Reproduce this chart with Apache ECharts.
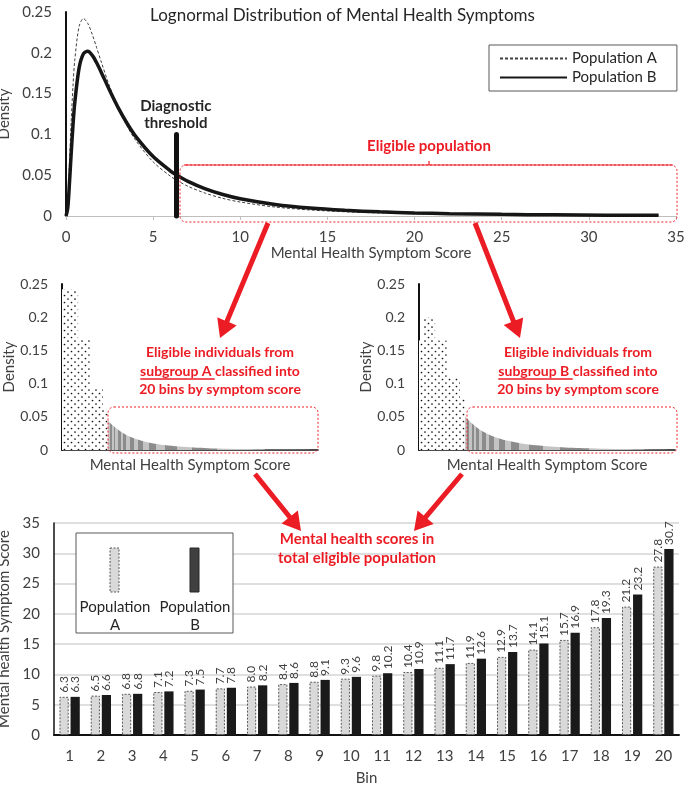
<!DOCTYPE html>
<html><head><meta charset="utf-8">
<script src="https://cdn.jsdelivr.net/npm/echarts@6/dist/echarts.min.js"></script>
<style>html,body{margin:0;padding:0;background:#fff}#c{width:685px;height:788px}</style>
</head><body><div id="c"></div>
<script>
// ---------- data ----------
const scorePoints = [0, 0.1, 0.2, 0.3, 0.4, 0.5, 0.75, 1, 1.25, 1.5, 1.75, 2, 2.5, 3, 3.5, 4, 5, 6, 6.3, 7, 8, 9, 10, 12, 14, 16, 18, 20, 22, 25, 28, 31, 34];
const densityA = [0, 0.0171, 0.0662, 0.1172, 0.159, 0.1903, 0.2322, 0.2420, 0.2360, 0.2229, 0.2069, 0.1903, 0.1590, 0.1323, 0.1104, 0.0926, 0.0663, 0.0486, 0.0445, 0.0364, 0.0279, 0.0216, 0.0171, 0.0110, 0.0074, 0.0052, 0.0037, 0.0027, 0.0020, 0.0014, 0.0009, 0.0007, 0.0005];
const densityB = [0, 0.0093, 0.0408, 0.0775, 0.1108, 0.1381, 0.1812, 0.1989, 0.2019, 0.1971, 0.1881, 0.1772, 0.1541, 0.1325, 0.1137, 0.0976, 0.0728, 0.0551, 0.0510, 0.0425, 0.0333, 0.0264, 0.0212, 0.0142, 0.0098, 0.0070, 0.0051, 0.0038, 0.0029, 0.0020, 0.0014, 0.0010, 0.0008];
const thresholdScore = 6.3;
const thresholdMarkTop = 0.1;
const scoreMax = 35;
const belowEdgesA = [0, 2.2, 3.8, 5.6, 6.3];
const belowHeightsA = [0.242, 0.166, 0.092, 0.062];
const belowEdgesB = [0, 0.55, 2.2, 3.8, 5.6, 6.3];
const belowHeightsB = [0.165, 0.2, 0.165, 0.11, 0.078];
const bins = ['1','2','3','4','5','6','7','8','9','10','11','12','13','14','15','16','17','18','19','20'];
const binScoreA = [6.3, 6.5, 6.8, 7.1, 7.3, 7.7, 8.0, 8.4, 8.8, 9.3, 9.8, 10.4, 11.1, 11.9, 12.9, 14.1, 15.7, 17.8, 21.2, 27.8];
const binScoreB = [6.3, 6.6, 6.8, 7.2, 7.5, 7.8, 8.2, 8.6, 9.1, 9.6, 10.2, 10.9, 11.7, 12.6, 13.7, 15.1, 16.9, 19.3, 23.2, 30.7];

// ---------- styles ----------
const FONT = 'Lato';
const RED = '#ec1c24';
const TXT = '#404040';

const chart = echarts.init(document.getElementById('c'), null, {renderer: 'canvas'});

// dotted pattern
const pat = document.createElement('canvas');
pat.width = 7; pat.height = 7;
(function(){
  const c = pat.getContext('2d');
  c.fillStyle = '#fff'; c.fillRect(0,0,7,7);
  c.fillStyle = '#111';
  c.beginPath(); c.arc(1.5,1.5,0.85,0,Math.PI*2); c.fill();
  c.beginPath(); c.arc(5,5,0.85,0,Math.PI*2); c.fill();
})();
const dotFill = {image: pat, repeat: 'repeat'};

const curveA = scorePoints.map((x,i)=>[x, densityA[i]]);
const curveB = scorePoints.map((x,i)=>[x, densityB[i]]);
const tailStart = scorePoints.indexOf(thresholdScore);
const tailA = curveA.slice(tailStart);
const tailB = curveB.slice(tailStart);
const belowA = belowHeightsA.map((h,i)=>[belowEdgesA[i], belowEdgesA[i+1], h]);
const belowB = belowHeightsB.map((h,i)=>[belowEdgesB[i], belowEdgesB[i+1], h]);

function pieces(lowEdges){
  const edges = lowEdges.concat([scoreMax]);
  return lowEdges.map((e,i)=>({gte: edges[i], lt: edges[i+1], color: i % 2 === 0 ? '#c4c4c4' : '#8c8c8c'}));
}

function renderBins(params, api){
  const p0 = api.coord([api.value(0), api.value(2)]);
  const p1 = api.coord([api.value(1), 0]);
  return {type: 'rect', shape: {x: p0[0], y: p0[1], width: p1[0]-p0[0], height: p1[1]-p0[1]}, style: {fill: dotFill, stroke: null}};
}

function arrowPts(x1,y1,x2,y2){
  const sw = 5, hw = 21, hl = 18;
  const dx=x2-x1, dy=y2-y1, L=Math.hypot(dx,dy), ux=dx/L, uy=dy/L, px=-uy, py=ux;
  const bx = x2-ux*hl, by = y2-uy*hl;
  return [[x1+px*sw/2, y1+py*sw/2],[bx+px*sw/2, by+py*sw/2],[bx+px*hw/2, by+py*hw/2],[x2,y2],
          [bx-px*hw/2, by-py*hw/2],[bx-px*sw/2, by-py*sw/2],[x1-px*sw/2, y1-py*sw/2]];
}
function arrow(x1,y1,x2,y2){
  return {type:'polygon', z:100, silent:true, shape:{points: arrowPts(x1,y1,x2,y2)}, style:{fill: RED}};
}

// underline measurement
const mc = document.createElement('canvas').getContext('2d');
mc.font = 'bold 14px ' + FONT;
const line2W = mc.measureText('subgroup X classified into').width;
const ulW = mc.measureText('subgroup X ').width;

function midText(cx, letter){
  return [
    {type:'text', z:100, silent:true, style:{text:'Eligible individuals from\nsubgroup ' + letter + ' classified into\n20 bins by symptom score',
      x: cx, y: 371, align:'center', verticalAlign:'middle', fill: RED, fontFamily: FONT, fontWeight:'bold', fontSize:14, lineHeight:18.5}},
    {type:'line', z:100, silent:true, shape:{x1: cx - line2W/2, y1: 379, x2: cx - line2W/2 + ulW, y2: 379}, style:{stroke: RED, lineWidth: 1.3}}
  ];
}

function roundBox(x,y,w,h){
  return {type:'rect', z:90, silent:true, shape:{x:x, y:y, width:w, height:h, r:6}, style:{fill:'none', stroke: RED, lineWidth:1, lineDash:[2,2]}};
}

const axisTxt = {color: TXT, fontFamily: FONT};
const G = {outerBoundsMode: 'none', containLabel: false};

const option = {
  animation: false,
  textStyle: {fontFamily: FONT},
  title: {text: 'Lognormal Distribution of Mental Health Symptoms', left: 'center', top: 2,
    textStyle: {fontSize: 17, fontWeight: 'normal', color: '#262626', fontFamily: FONT}},
  legend: {data: ['Population A', 'Population B'], orient: 'vertical', left: 489, top: 45,
    padding: [6, 20, 6, 10], itemWidth: 67, itemHeight: 14, itemGap: 4,
    itemStyle: {opacity: 0},
    borderColor: '#595959', borderWidth: 1, textStyle: {fontSize: 15, color: '#262626', fontFamily: FONT}},
  grid: [
    Object.assign({left: 66, right: 9, top: 12, height: 204}, G),
    Object.assign({left: 62, width: 256, top: 284, height: 166}, G),
    Object.assign({left: 419, width: 256, top: 284, height: 166}, G),
    Object.assign({left: 54, right: 6, top: 523, height: 212}, G)
  ],
  visualMap: [
    {type:'piecewise', show:false, seriesIndex: 3, dimension: 0, pieces: pieces(binScoreA)},
    {type:'piecewise', show:false, seriesIndex: 5, dimension: 0, pieces: pieces(binScoreB)}
  ],
  xAxis: [
    {gridIndex:0, type:'value', min:0, max:scoreMax, interval:5,
      name:'Mental Health Symptom Score', nameLocation:'middle', nameGap:29,
      nameTextStyle:{fontSize:15, color:TXT},
      axisLine:{show:true, lineStyle:{color:'#bfbfbf', width:1}},
      axisTick:{show:true, length:4, lineStyle:{color:'#bfbfbf'}},
      axisLabel:Object.assign({fontSize:15, margin:14}, axisTxt), splitLine:{show:false}},
    {gridIndex:1, type:'value', min:0, max:scoreMax,
      name:'Mental Health Symptom Score', nameLocation:'middle', nameGap:8,
      nameTextStyle:{fontSize:15, color:TXT},
      axisLine:{show:true, lineStyle:{color:'#111', width:1.5}}, axisTick:{show:false},
      axisLabel:{show:false}, splitLine:{show:false}},
    {gridIndex:2, type:'value', min:0, max:scoreMax,
      name:'Mental Health Symptom Score', nameLocation:'middle', nameGap:8,
      nameTextStyle:{fontSize:15, color:TXT},
      axisLine:{show:true, lineStyle:{color:'#111', width:1.5}}, axisTick:{show:false},
      axisLabel:{show:false}, splitLine:{show:false}},
    {gridIndex:3, type:'category', data: bins, boundaryGap:true,
      name:'Bin', nameLocation:'middle', nameGap:36, nameTextStyle:{fontSize:15, color:TXT},
      axisLine:{show:true, lineStyle:{color:'#111', width:2}}, axisTick:{show:false},
      axisLabel:Object.assign({fontSize:15, margin:14}, axisTxt)}
  ],
  yAxis: [
    {gridIndex:0, type:'value', min:0, max:0.25, interval:0.05,
      name:'Density', nameLocation:'middle', nameGap:43, nameTextStyle:{fontSize:15, color:TXT},
      axisLine:{show:true, lineStyle:{color:'#111', width:2}}, axisTick:{show:false},
      axisLabel:Object.assign({fontSize:15, margin:14}, axisTxt), splitLine:{show:false}},
    {gridIndex:1, type:'value', min:0, max:0.25, interval:0.05,
      name:'Density', nameLocation:'middle', nameGap:45, nameTextStyle:{fontSize:15, color:TXT},
      axisLine:{show:true, lineStyle:{color:'#111', width:2}}, axisTick:{show:false},
      axisLabel:Object.assign({fontSize:14, margin:14}, axisTxt), splitLine:{show:false}},
    {gridIndex:2, type:'value', min:0, max:0.25, interval:0.05,
      name:'Density', nameLocation:'middle', nameGap:45, nameTextStyle:{fontSize:15, color:TXT},
      axisLine:{show:true, lineStyle:{color:'#111', width:2}}, axisTick:{show:false},
      axisLabel:Object.assign({fontSize:14, margin:14}, axisTxt), splitLine:{show:false}},
    {gridIndex:3, type:'value', min:0, max:35, interval:5,
      name:'Mental health Symptom Score', nameLocation:'middle', nameGap:29, nameTextStyle:{fontSize:15, color:TXT},
      axisLine:{show:true, lineStyle:{color:'#111', width:1.5}}, axisTick:{show:false},
      axisLabel:Object.assign({fontSize:15, margin:14}, axisTxt),
      splitLine:{show:true, lineStyle:{color:'#d4d4d4', width:1.5}}}
  ],
  series: [
    {name:'Population A', type:'line', xAxisIndex:0, yAxisIndex:0, data: curveA, smooth:0.3,
      symbol:'none', lineStyle:{color:'#404040', width:1, type:[3,2]}, itemStyle:{color:'#404040'}, z:3},
    {name:'Population B', type:'line', xAxisIndex:0, yAxisIndex:0, data: curveB, smooth:0.3,
      symbol:'none', lineStyle:{color:'#161616', width:3.5}, itemStyle:{color:'#161616'}, z:4,
      markLine:{silent:true, symbol:'none', animation:false,
        lineStyle:{color:'#111', width:5, type:'solid', cap:'round'},
        label:{show:true, position:'end', formatter:'Diagnostic\nthreshold', distance:3,
          fontSize:15, fontWeight:'bold', color:'#262626', fontFamily:FONT, lineHeight:17},
        data:[[{coord:[thresholdScore, 0]}, {coord:[thresholdScore, thresholdMarkTop]}]]}},
    {name:'below A', type:'custom', xAxisIndex:1, yAxisIndex:1, data: belowA, encode:{x:[0,1], y:2},
      renderItem: renderBins, silent:true},
    {name:'tail A', type:'line', xAxisIndex:1, yAxisIndex:1, data: tailA, smooth:0.3, symbol:'none',
      lineStyle:{width:0}, areaStyle:{opacity:1}, silent:true},
    {name:'below B', type:'custom', xAxisIndex:2, yAxisIndex:2, data: belowB, encode:{x:[0,1], y:2},
      renderItem: renderBins, silent:true},
    {name:'tail B', type:'line', xAxisIndex:2, yAxisIndex:2, data: tailB, smooth:0.3, symbol:'none',
      lineStyle:{width:0}, areaStyle:{opacity:1}, silent:true},
    {name:'Bins A', type:'bar', xAxisIndex:3, yAxisIndex:3, data: binScoreA, barCategoryGap:'35%', barGap:'20%',
      itemStyle:{color:'#d9d9d9', borderColor:'#595959', borderWidth:1, borderType:[2,1.5]},
      label:{show:true, position:'top', rotate:90, align:'left', verticalAlign:'middle', distance:4,
        formatter: p => p.value.toFixed(1), fontSize:12, color:TXT, fontFamily:FONT}},
    {name:'Bins B', type:'bar', xAxisIndex:3, yAxisIndex:3, data: binScoreB,
      itemStyle:{color:'#1a1a1a'},
      label:{show:true, position:'top', rotate:90, align:'left', verticalAlign:'middle', distance:4,
        formatter: p => p.value.toFixed(1), fontSize:12, color:TXT, fontFamily:FONT}}
  ],
  graphic: [
    {type:'rect', z:90, silent:true, shape:{x:180, y:165, width:497, height:57, r:6}, style:{fill:'none', stroke:RED, lineWidth:1, lineDash:[2,2]}},
    {type:'line', z:91, silent:true, shape:{x1:184, y1:165, x2:673, y2:165}, style:{stroke:RED, lineWidth:1.2}},
    {type:'line', z:91, silent:true, shape:{x1:429, y1:165, x2:429, y2:161}, style:{stroke:RED, lineWidth:1.2}},
    {type:'text', z:100, silent:true, style:{text:'Eligible population', x:429, y:146, align:'center', verticalAlign:'middle',
      fill:RED, fontFamily:FONT, fontWeight:'bold', fontSize:15}},
    arrow(268,223,220,338),
    arrow(475,223,520,338),
    arrow(255,474,301,531),
    arrow(462,474,414,531),
    ...midText(220,'A'),
    ...midText(578,'B'),
    roundBox(108,407,210,46),
    roundBox(467,407,210,46),
    {type:'text', z:100, silent:true, style:{text:'Mental health scores in\ntotal eligible population', x:357, y:549,
      align:'center', verticalAlign:'middle', fill:RED, fontFamily:FONT, fontWeight:'bold', fontSize:15, lineHeight:19}},
    {type:'rect', z:95, silent:true, shape:{x:76, y:533, width:157, height:100}, style:{fill:'#fff', stroke:'#595959', lineWidth:1}},
    {type:'rect', z:96, silent:true, shape:{x:110, y:548, width:9, height:44}, style:{fill:'#d9d9d9', stroke:'#595959', lineWidth:1, lineDash:[2,1.5]}},
    {type:'rect', z:96, silent:true, shape:{x:190, y:548, width:9, height:44}, style:{fill:'#404040', stroke:'#262626', lineWidth:1}},
    {type:'text', z:96, silent:true, style:{text:'Population\nA', x:115, y:616, align:'center', verticalAlign:'middle', fill:'#262626', fontFamily:FONT, fontSize:15, lineHeight:18}},
    {type:'text', z:96, silent:true, style:{text:'Population\nB', x:195, y:616, align:'center', verticalAlign:'middle', fill:'#262626', fontFamily:FONT, fontSize:15, lineHeight:18}}
  ]
};
chart.setOption(option);
</script>
</body></html>
